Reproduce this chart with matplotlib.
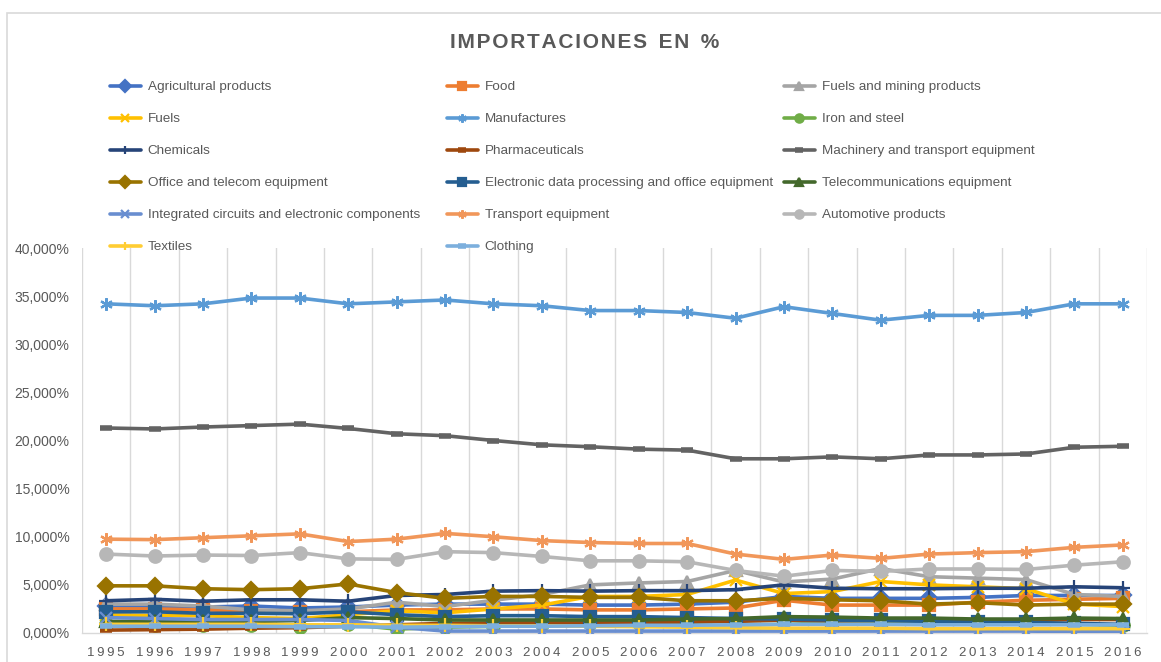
import matplotlib
matplotlib.use("Agg")
import matplotlib.pyplot as plt
from matplotlib.patches import Rectangle
from matplotlib.ticker import FuncFormatter, FixedLocator

plt.rcParams["font.family"] = ["Liberation Sans", "DejaVu Sans"]

years = list(range(1995, 2017))

agricultural = [2.8, 2.8, 2.7, 2.8, 2.6, 2.7, 2.9, 3.0, 3.0, 3.0, 2.9, 2.9, 3.0, 3.2, 3.8, 3.6, 3.6, 3.6, 3.7, 3.9, 3.9, 3.9]
food = [2.5, 2.5, 2.4, 2.3, 2.2, 2.2, 2.4, 2.4, 2.5, 2.5, 2.4, 2.4, 2.5, 2.6, 3.4, 2.9, 2.9, 2.9, 3.2, 3.4, 3.5, 3.6]
fuels_mining = [3.0, 3.0, 2.8, 2.4, 2.3, 2.5, 3.2, 2.75, 3.4, 4.0, 5.0, 5.2, 5.35, 6.5, 5.3, 5.6, 6.7, 5.85, 5.7, 5.55, 4.0, 3.8]
fuels = [1.9, 1.8, 1.8, 1.6, 1.5, 1.9, 2.3, 2.1, 2.5, 2.9, 3.8, 3.8, 4.0, 5.5, 4.1, 4.3, 5.35, 5.0, 4.8, 4.6, 3.0, 2.75]
manufactures = [34.2, 34.0, 34.2, 34.8, 34.8, 34.2, 34.4, 34.6, 34.2, 34.0, 33.5, 33.5, 33.3, 32.7, 33.9, 33.2, 32.5, 33.0, 33.0, 33.3, 34.2, 34.2]
iron_steel = [0.9, 0.8, 0.8, 0.8, 0.6, 0.9, 0.4, 0.6, 0.7, 0.9, 1.0, 1.0, 1.1, 1.3, 1.3, 1.1, 1.2, 1.1, 1.0, 1.0, 0.9, 0.8]
chemicals = [3.35, 3.5, 3.3, 3.45, 3.45, 3.3, 3.9, 4.0, 4.35, 4.4, 4.35, 4.4, 4.4, 4.5, 5.0, 4.65, 4.6, 4.6, 4.65, 4.65, 4.8, 4.7]
pharma = [0.3, 0.35, 0.4, 0.5, 0.55, 0.7, 0.85, 1.0, 1.05, 1.1, 1.1, 1.1, 1.15, 1.2, 1.35, 1.25, 1.3, 1.3, 1.3, 1.3, 1.4, 1.4]
machinery = [21.3, 21.2, 21.4, 21.55, 21.7, 21.25, 20.7, 20.5, 20.0, 19.55, 19.35, 19.1, 19.0, 18.1, 18.1, 18.3, 18.1, 18.5, 18.5, 18.6, 19.3, 19.4]
office_telecom = [4.9, 4.9, 4.6, 4.5, 4.6, 5.1, 4.2, 3.6, 3.8, 3.8, 3.7, 3.7, 3.35, 3.35, 3.6, 3.45, 3.35, 3.0, 3.15, 2.9, 3.0, 3.0]
edp = [2.2, 2.2, 2.05, 2.05, 2.0, 2.2, 1.9, 1.7, 1.8, 1.8, 1.7, 1.7, 1.6, 1.5, 1.45, 1.35, 1.3, 1.2, 1.1, 1.1, 1.0, 0.9]
telecom = [1.2, 1.2, 1.2, 1.2, 1.3, 1.6, 1.5, 1.35, 1.35, 1.35, 1.35, 1.35, 1.45, 1.5, 1.7, 1.65, 1.55, 1.55, 1.45, 1.45, 1.55, 1.5]
integrated = [1.6, 1.5, 1.4, 1.4, 1.4, 1.3, 0.6, 0.2, 0.2, 0.2, 0.2, 0.2, 0.2, 0.2, 0.2, 0.2, 0.2, 0.2, 0.2, 0.2, 0.15, 0.15]
transport = [9.75, 9.7, 9.9, 10.1, 10.3, 9.5, 9.75, 10.35, 10.0, 9.6, 9.4, 9.3, 9.3, 8.2, 7.65, 8.1, 7.75, 8.2, 8.35, 8.45, 8.9, 9.15]
automotive = [8.2, 8.0, 8.1, 8.05, 8.35, 7.7, 7.65, 8.45, 8.35, 7.95, 7.5, 7.5, 7.4, 6.5, 5.9, 6.5, 6.4, 6.65, 6.65, 6.6, 7.05, 7.4]
textiles = [0.9, 0.9, 0.9, 0.9, 0.85, 0.85, 0.8, 0.8, 0.75, 0.75, 0.7, 0.65, 0.6, 0.55, 0.5, 0.5, 0.5, 0.45, 0.45, 0.45, 0.45, 0.45]
clothing = [0.7, 0.7, 0.7, 0.7, 0.65, 0.65, 0.6, 0.65, 0.7, 0.7, 0.75, 0.8, 0.8, 0.85, 0.9, 0.9, 0.9, 0.85, 0.85, 0.85, 0.85, 0.85]

series = [
    ("Agricultural products", agricultural, "#4472C4", "D"),
    ("Food", food, "#ED7D31", "s"),
    ("Fuels and mining products", fuels_mining, "#A5A5A5", "^"),
    ("Fuels", fuels, "#FFC000", "x"),
    ("Manufactures", manufactures, "#5B9BD5", (6, 2, 0)),
    ("Iron and steel", iron_steel, "#70AD47", "o"),
    ("Chemicals", chemicals, "#264478", "+"),
    ("Pharmaceuticals", pharma, "#9E480E", "_"),
    ("Machinery and transport equipment", machinery, "#636363", "_"),
    ("Office and telecom equipment", office_telecom, "#997300", "D"),
    ("Electronic data processing and office equipment", edp, "#255E91", "s"),
    ("Telecommunications equipment", telecom, "#43682B", "^"),
    ("Integrated circuits and electronic components", integrated, "#698ED0", "x"),
    ("Transport equipment", transport, "#F1975A", (6, 2, 0)),
    ("Automotive products", automotive, "#B7B7B7", "o"),
    ("Textiles", textiles, "#FFCD33", "+"),
    ("Clothing", clothing, "#7CAFDD", "_"),
]

MARKER_SIZE = {"D": 8, "s": 8, "^": 8, "x": 8, "o": 9, "+": 10, "_": 8, (6, 2, 0): 9}
TEXT = "#595959"

fig = plt.figure(figsize=(11.61, 6.62), dpi=100)
W, H = 1161, 662

# chart border, like the Excel chart area frame
fig.patches.append(Rectangle((7 / W, -0.1), 1.2, 1.1 - 13 / H, transform=fig.transFigure,
                             fill=False, edgecolor="#D9D9D9", linewidth=1.2))

ax = fig.add_axes([82 / W, 1 - 633 / H, (1147 - 82) / W, (633 - 248) / H])

x = list(range(len(years)))
handles = []
for i, (name, vals, color, marker) in enumerate(series):
    ms = MARKER_SIZE[marker]
    mew = 4 if marker == "_" else 1.6
    (ln,) = ax.plot(x, vals, color=color, linewidth=2.6, marker=marker, markersize=ms,
                    markerfacecolor=color, markeredgecolor=color, markeredgewidth=mew,
                    label=name, zorder=3 + i, solid_capstyle="round", solid_joinstyle="round")
    handles.append(ln)

ax.set_xlim(-0.5, len(years) - 0.5)
ax.set_ylim(0, 40)
ax.set_xticks(x)
ax.set_xticklabels(["\u2009".join(str(y)) for y in years])
ax.xaxis.set_minor_locator(FixedLocator([i - 0.5 for i in range(len(years) + 1)]))
ax.grid(which="minor", axis="x", color="#D9D9D9", linewidth=1.0, zorder=0)
ax.set_yticks(range(0, 41, 5))
ax.yaxis.set_major_formatter(FuncFormatter(lambda v, _: f"{v:.3f}".replace(".", ",") + "%"))
ax.tick_params(axis="both", which="both", length=0, colors=TEXT)
ax.tick_params(axis="x", labelsize=9.5, pad=10)
ax.tick_params(axis="y", labelsize=10, pad=9)
for s in ("top", "right", "left"):
    ax.spines[s].set_visible(False)
ax.spines["bottom"].set_color("#D9D9D9")
ax.spines["bottom"].set_linewidth(1.0)

title = "\u200a".join("IMPORTACIONES") + "  " + "\u200a".join("EN") + "  %"
fig.text(585 / W, 1 - 43 / H, title, ha="center", va="center",
         fontsize=15, fontweight="bold", color=TEXT)

# legend, three columns laid out row by row like the reference
col_x = [110, 447, 784]
for c in range(3):
    hs = handles[c::3]
    leg = fig.legend(handles=hs, labels=[h.get_label() for h in hs], loc="upper left",
                     bbox_to_anchor=(col_x[c] / W, 1 - 81 / H), frameon=False, ncol=1,
                     fontsize=9.7, labelspacing=1.45, handlelength=2.3, handletextpad=0.5,
                     borderpad=0, borderaxespad=0, labelcolor=TEXT)
    for lh in leg.legend_handles:
        lh.set_markersize(6)

fig.savefig("out.png", dpi=100)
